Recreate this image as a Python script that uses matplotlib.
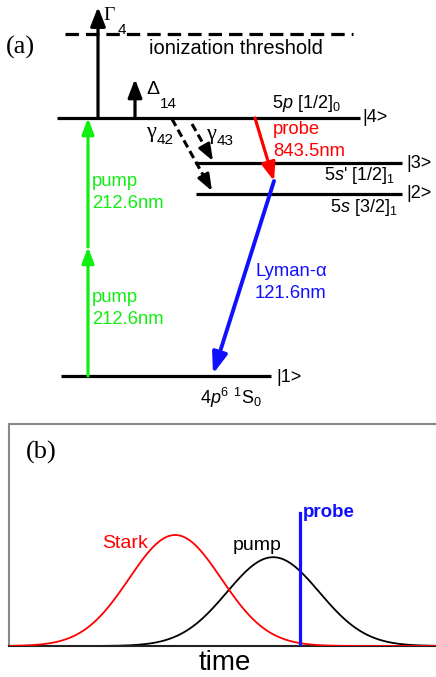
import numpy as np
import matplotlib
matplotlib.use("Agg")
import matplotlib.pyplot as plt

plt.rcParams['font.family'] = ['Liberation Sans', 'DejaVu Sans']
plt.rcParams['mathtext.fontset'] = 'custom'
plt.rcParams['mathtext.rm'] = 'Liberation Sans'
plt.rcParams['mathtext.it'] = 'Liberation Sans:italic'
plt.rcParams['mathtext.bf'] = 'Liberation Sans:bold'

# ---------------- data: panel (a) level scheme (diagram units, y downward) ----
level_names = ['|1>', '|2>', '|3>', '|4>']
level_y = [376, 194, 163, 118]
level_xstart = [61, 196, 195, 57]
level_xend = [271, 402, 402, 360]
ion_y = 34
ion_x = [65, 353]
pump_mid_y = 247          # intermediate virtual level of the two-photon pump
pump_x = 88

# transitions (start x, start y, end x, end y)
probe_arrow = [255, 118, 274, 181]
lyman_arrow = [274, 181, 213, 374]
g42_arrow = [172, 119, 212, 191]
g43_arrow = [192, 124, 213, 161]
gamma4_arrow = [98, 118, 98, 7]
delta14_arrow = [135, 118, 135, 79]

# ---------------- data: panel (b) pulses ----------------
pulse_names = ['Stark', 'pump']
pulse_colors = ['#ff0000', '#000000']
pulse_center = [3.85, 6.12]
pulse_sigma = [1.07, 1.07]
pulse_height = [0.50, 0.40]
probe_time = 6.74
probe_height = 0.60

GREEN = '#11ee11'
RED = '#ff0000'
BLUE = '#1010ff'
SERIF = ['Liberation Serif', 'DejaVu Serif']

fig = plt.figure(figsize=(4.36, 6.77), dpi=100)

# ---------------- panel (a) ----------------
ax = fig.add_axes([0, 0, 1, 1])
ax.set_xlim(0, 436)
ax.set_ylim(677, 0)
ax.axis('off')

LW = 2.3
for y, x0, x1 in zip(level_y, level_xstart, level_xend):
    ax.plot([x0, x1], [y, y], color='black', lw=LW, solid_capstyle='butt')
ax.plot(ion_x, [ion_y, ion_y], color='black', lw=LW, dashes=(4.2, 2.2),
        dash_capstyle='butt')


def arrow(a, color, hl=1.0, hw=0.4, lw=LW):
    ax.annotate('', xy=(a[2], a[3]), xytext=(a[0], a[1]),
                arrowprops=dict(arrowstyle=f'-|>,head_length={hl},head_width={hw}',
                                color=color, lw=lw, shrinkA=0, shrinkB=0))


# pump arrows
arrow([pump_x, level_y[0], pump_x, pump_mid_y], GREEN, 0.95, 0.36)
arrow([pump_x, pump_mid_y, pump_x, level_y[3]], GREEN, 0.95, 0.36)
arrow(gamma4_arrow, 'black', 1.15, 0.45)
arrow(delta14_arrow, 'black', 1.1, 0.42)
arrow(probe_arrow, RED, 1.1, 0.42)
arrow(lyman_arrow, BLUE, 1.25, 0.45, lw=2.8)


def dashed_arrow(a):
    x0, y0, x1, y1 = a
    d = np.hypot(x1 - x0, y1 - y0)
    ux, uy = (x1 - x0) / d, (y1 - y0) / d
    ax.plot([x0, x1 - ux * 8], [y0, y1 - uy * 8], color='black', lw=2.2,
            dashes=(2.6, 1.4), dash_capstyle='butt')
    ax.annotate('', xy=(x1, y1), xytext=(x1 - ux * 14, y1 - uy * 14),
                arrowprops=dict(arrowstyle='-|>,head_length=1.0,head_width=0.38',
                                color='black', lw=2.0, shrinkA=0, shrinkB=0))


dashed_arrow(g42_arrow)
dashed_arrow(g43_arrow)

fs = 13.3
lfs = 13
ax.text(6, 47, '(a)', family=SERIF, fontsize=19, va='center', ha='left')
ax.text(236, 49, 'ionization threshold', fontsize=14.5, ha='center', va='center')
ax.text(103, 16, 'Γ', family=SERIF, fontsize=14, ha='left', va='center')
ax.text(118, 30, '4', fontsize=11, ha='left', va='center')
ax.text(146, 90, 'Δ', fontsize=14, ha='left', va='center')
ax.text(160, 104, '14', fontsize=11, ha='left', va='center')
ax.text(146, 133, 'γ', family=SERIF, fontsize=16, ha='left', va='center')
ax.text(157, 140, '42', fontsize=11, ha='left', va='center')
ax.text(206, 134, 'γ', family=SERIF, fontsize=16, ha='left', va='center')
ax.text(217, 141, '43', fontsize=11, ha='left', va='center')
ax.text(272, 104, r'5$p$ [1/2]$_0$', fontsize=lfs, ha='left', va='center')
ax.text(362, 118, '|4>', fontsize=lfs, ha='left', va='center')
ax.text(273, 130, 'probe', color=RED, fontsize=fs, ha='left', va='center')
ax.text(273, 151, '843.5nm', color=RED, fontsize=fs, ha='left', va='center')
ax.text(406, 163, '|3>', fontsize=lfs, ha='left', va='center')
ax.text(324, 175, r"5$s$' [1/2]$_1$", fontsize=lfs, ha='left', va='center')
ax.text(406, 194, '|2>', fontsize=lfs, ha='left', va='center')
ax.text(330, 207, r'5$s$ [3/2]$_1$', fontsize=lfs, ha='left', va='center')
ax.text(255, 272, 'Lyman-α', color=BLUE, fontsize=fs, ha='left', va='center')
ax.text(255, 293, '121.6nm', color=BLUE, fontsize=fs, ha='left', va='center')
ax.text(276, 378, '|1>', fontsize=lfs, ha='left', va='center')
ax.text(200, 398, r'4$p^6$ $^1$S$_0$', fontsize=lfs, ha='left', va='center')
for yy in (182, 298):
    ax.text(92, yy, 'pump', color=GREEN, fontsize=fs, ha='left', va='center')
    ax.text(92, yy + 21, '212.6nm', color=GREEN, fontsize=fs, ha='left', va='center')

# ---------------- panel (b) ----------------
bx = fig.add_axes([9 / 436, (677 - 646) / 677, 431.6 / 436, 222 / 677])
bx.set_xlim(0, 10)
bx.set_ylim(0, 1)
bx.set_xticks([])
bx.set_yticks([])
bx.spines['right'].set_visible(False)
for s in ('left', 'top'):
    bx.spines[s].set_color('#888888')
    bx.spines[s].set_linewidth(1.5)
bx.spines['bottom'].set_color('#222222')
bx.spines['bottom'].set_linewidth(1.5)

t = np.linspace(0, 10, 600)
for name, c, mu, sg, h in zip(pulse_names, pulse_colors, pulse_center,
                              pulse_sigma, pulse_height):
    bx.plot(t, h * np.exp(-(t - mu) ** 2 / (2 * sg ** 2)), color=c, lw=1.3,
            zorder=3 if c == RED else 2)
bx.plot([probe_time, probe_time], [0, probe_height], color=BLUE, lw=2.3, zorder=4)

bx.text(3.22, 0.462, 'Stark', color=RED, fontsize=14, ha='right', va='center')
bx.text(5.75, 0.452, 'pump', color='black', fontsize=14, ha='center', va='center')
bx.text(6.80, 0.602, 'probe', color=BLUE, fontsize=13.5, fontweight='bold',
        ha='left', va='center')
bx.text(0.039, 0.87, '(b)', family=SERIF, fontsize=19, ha='left', va='center',
        transform=bx.transAxes)
bx.set_xlabel('time', fontsize=20, labelpad=3)

fig.savefig('out.png', dpi=100)
